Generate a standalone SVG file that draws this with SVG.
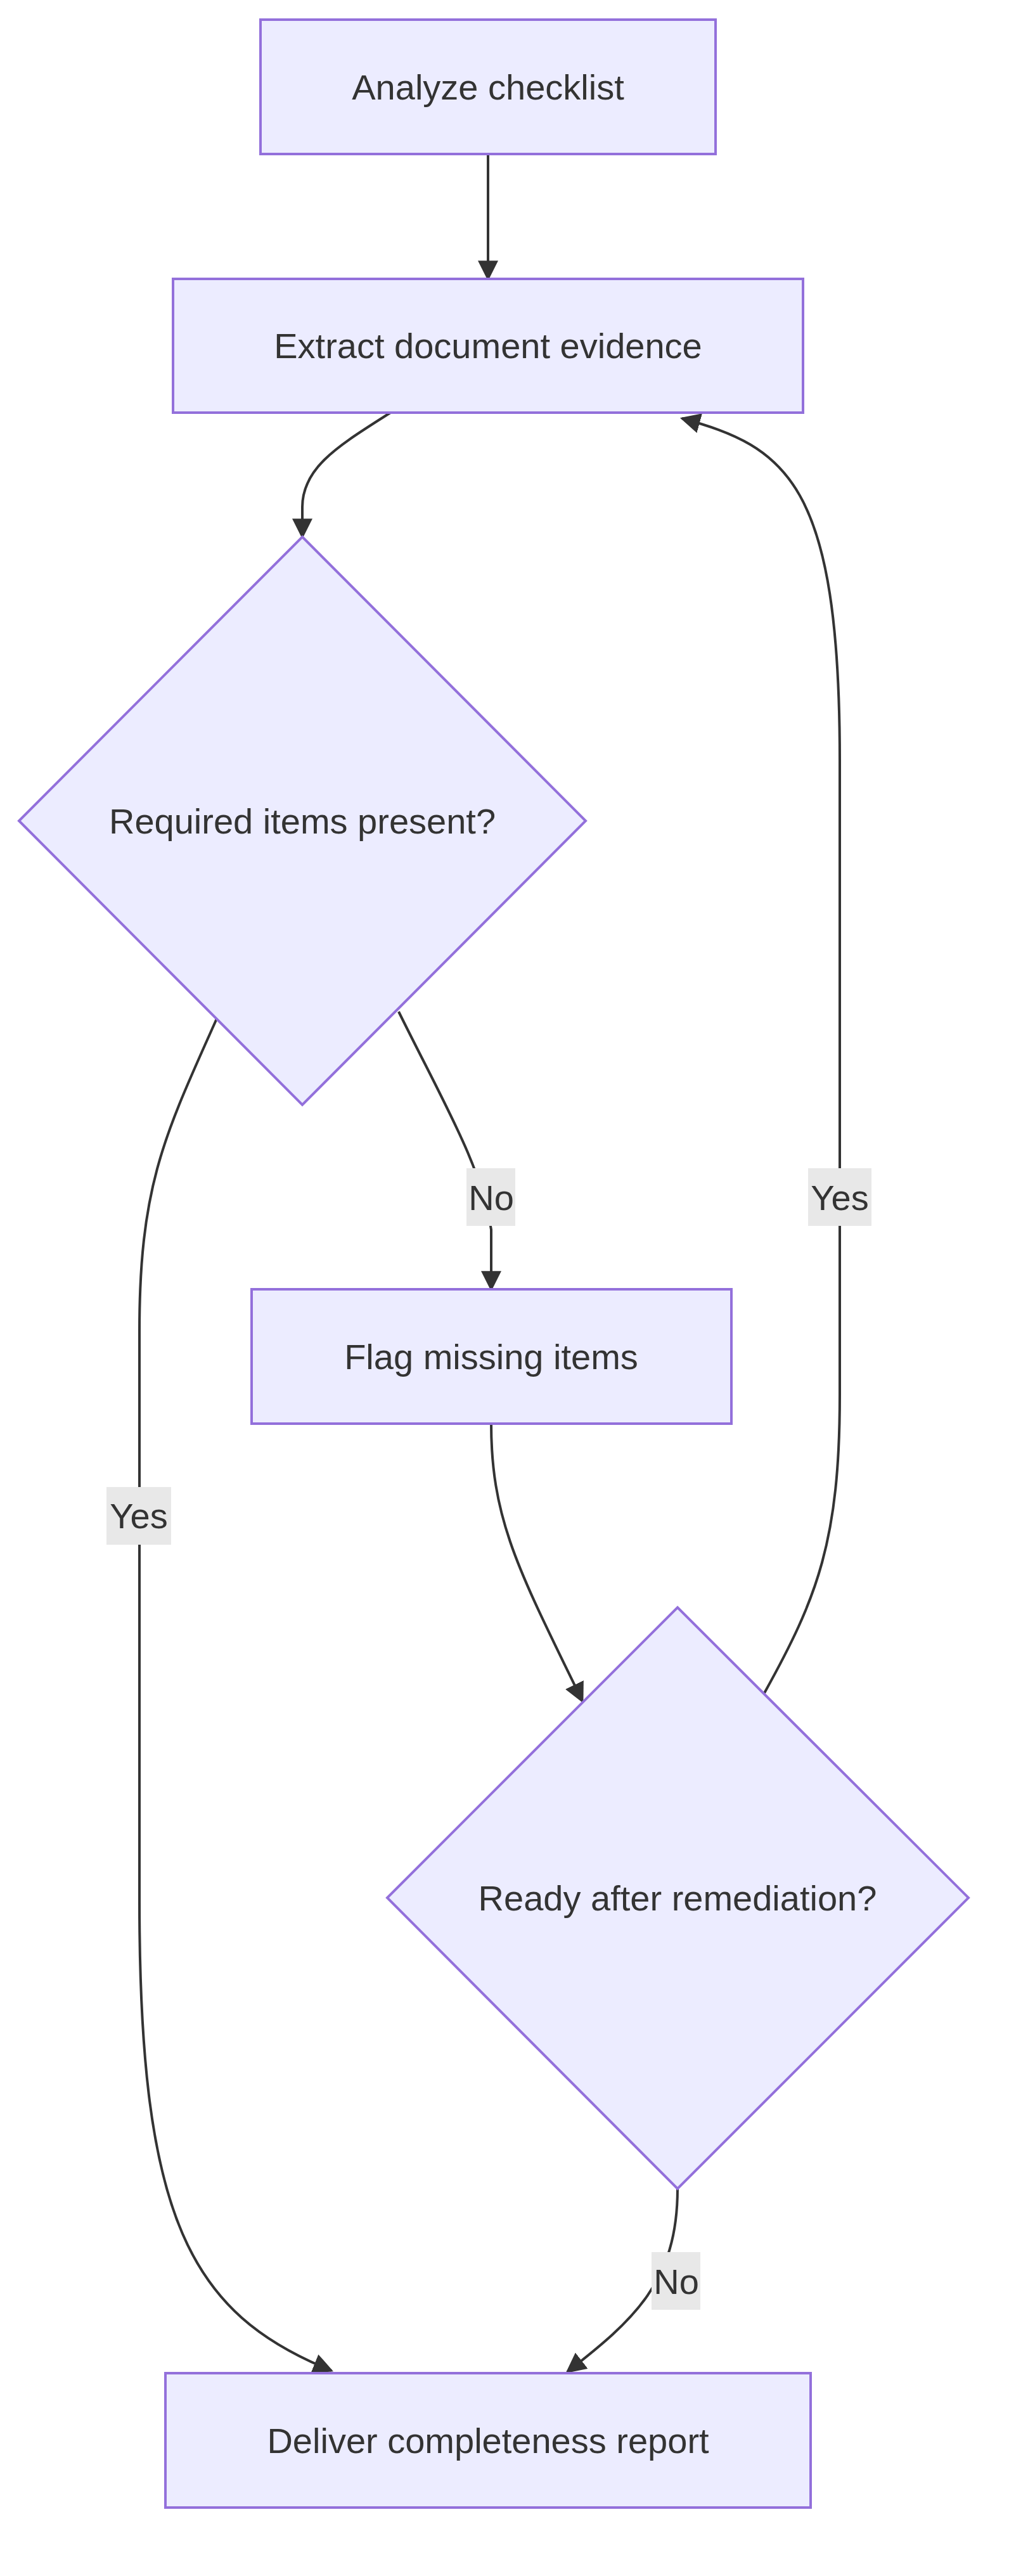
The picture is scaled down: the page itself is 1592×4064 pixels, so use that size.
<svg xmlns="http://www.w3.org/2000/svg" width="1592" height="4064" viewBox="0 0 1592 4064">
<style>
.n{fill:#ECECFF;stroke:#9370DB;stroke-width:4}
.t{font-family:"Liberation Sans",Arial,sans-serif;font-size:56px;fill:#333;text-anchor:middle;dominant-baseline:central}
.e{fill:none;stroke:#333;stroke-width:4}
.lb{fill:#e8e8e8}
</style>
<defs><marker id="a" viewBox="0 0 10 10" refX="9" refY="5" markerWidth="8" markerHeight="8" markerUnits="userSpaceOnUse" orient="auto"><path d="M0,0L10,5L0,10z" fill="#333"/></marker>
<marker id="b" viewBox="0 0 10 10" refX="9" refY="5" markerWidth="32" markerHeight="32" markerUnits="userSpaceOnUse" orient="auto"><path d="M0,0L10,5L0,10z" fill="#333"/></marker></defs>
<g id="edges">
<path class="e" d="M770,243 L770,440" marker-end="url(#b)"/>
<path class="e" d="M616,651 C540,700 477,735 477,800 L477,847" marker-end="url(#b)"/>
<path class="e" d="M629,1596 C700,1740 760,1840 775,1940 L775,2034" marker-end="url(#b)"/>
<path class="e" d="M342,1607 C260,1790 220,1870 220,2100 L220,3000 C220,3500 300,3650 523,3740" marker-end="url(#b)"/>
<path class="e" d="M775,2246 C775,2400 820,2480 919,2684" marker-end="url(#b)"/>
<path class="e" d="M1206,2671 C1290,2520 1325,2430 1325,2200 L1325,1200 C1325,760 1240,705 1076,660" marker-end="url(#b)"/>
<path class="e" d="M1069,3453 C1069,3600 1000,3660 895,3742" marker-end="url(#b)"/>
<rect class="lb" x="736" y="1843" width="77" height="91"/><text class="t" x="775" y="1889">No</text>
<rect class="lb" x="1275" y="1843" width="100" height="91"/><text class="t" x="1325" y="1889">Yes</text>
<rect class="lb" x="168" y="2346" width="102" height="91"/><text class="t" x="219" y="2391">Yes</text>
<rect class="lb" x="1028" y="3553" width="77" height="91"/><text class="t" x="1067" y="3599">No</text>
</g>
<g id="n1"><rect class="n" x="411" y="31" width="718" height="212"/><text class="t" x="770" y="137">Analyze checklist</text></g>
<g id="n2"><rect class="n" x="273" y="440" width="994" height="211"/><text class="t" x="770" y="545">Extract document evidence</text></g>
<g id="n3"><polygon class="n" points="477,847 924,1295 477,1743 30,1295"/><text class="t" x="477" y="1295">Required items present?</text></g>
<g id="n4"><rect class="n" x="397" y="2034" width="757" height="212"/><text class="t" x="775" y="2140">Flag missing items</text></g>
<g id="n5"><polygon class="n" points="1069,2536 1528,2994 1069,3453 611,2994"/><text class="t" x="1069" y="2994">Ready after remediation?</text></g>
<g id="n6"><rect class="n" x="261" y="3744" width="1018" height="212"/><text class="t" x="770" y="3850">Deliver completeness report</text></g>
</svg>
